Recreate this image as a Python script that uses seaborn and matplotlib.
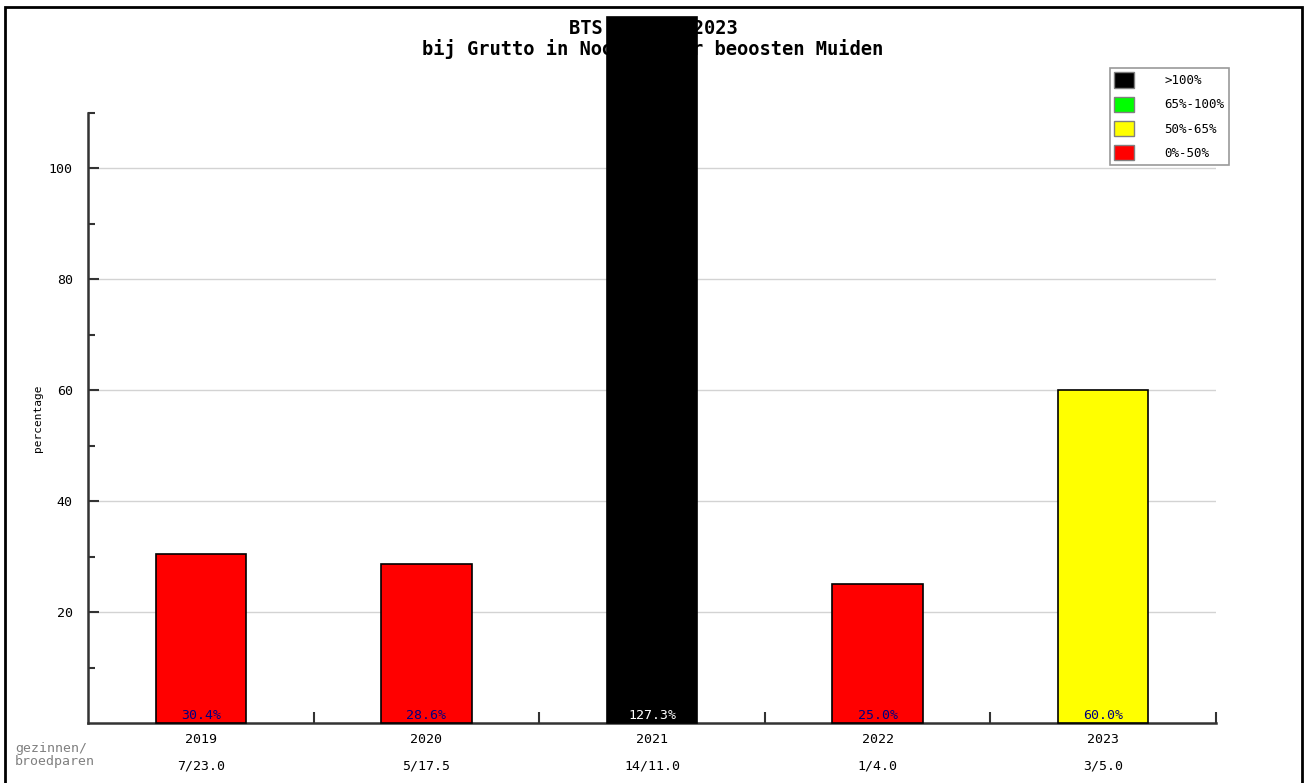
import matplotlib
matplotlib.use("Agg")
import matplotlib.pyplot as plt
import seaborn as sns
from matplotlib.patches import Patch, Rectangle

# data
years = ["2019", "2020", "2021", "2022", "2023"]
percentages = [30.4, 28.6, 127.3, 25.0, 60.0]
counts = ["7/23.0", "5/17.5", "14/11.0", "1/4.0", "3/5.0"]

legend_labels = [">100%", "65%-100%", "50%-65%", "0%-50%"]
legend_colors = ["#000000", "#00ff00", "#ffff00", "#ff0000"]


def bar_color(v):
    if v > 100:
        return "#000000"
    if v >= 65:
        return "#00ff00"
    if v >= 50:
        return "#ffff00"
    return "#ff0000"


colors = [bar_color(v) for v in percentages]
label_colors = ["white" if c == "#000000" else "#000080" for c in colors]

sns.set_style("white")
plt.rcParams["font.family"] = ["DejaVu Sans Mono"]
plt.rcParams["text.color"] = "black"
plt.rcParams["axes.labelcolor"] = "black"
plt.rcParams["xtick.color"] = "#333333"
plt.rcParams["ytick.color"] = "#333333"
plt.rcParams["xtick.labelcolor"] = "black"
plt.rcParams["ytick.labelcolor"] = "black"

fig = plt.figure(figsize=(13.06, 7.83), dpi=100)
ax = fig.add_axes([88 / 1306, 60 / 783, 1128 / 1306, 610 / 783])

sns.barplot(x=years, y=percentages, hue=years, palette=colors, width=0.4,
            edgecolor="black", linewidth=1.2, saturation=1, legend=False,
            ax=ax, zorder=3)
for p in ax.patches:
    p.set_clip_on(False)

ax.set_xlim(-0.5, 4.5)
ax.set_ylim(0, 110)

# y axis
ax.set_yticks([20, 40, 60, 80, 100])
ax.set_yticks([10, 30, 50, 70, 90, 110], minor=True)
ax.tick_params(axis="y", which="major", left=True, direction="in", length=8,
               width=1.5, pad=11, labelsize=9.5)
ax.tick_params(axis="y", which="minor", left=True, direction="in", length=5,
               width=1.5)
ax.yaxis.grid(True, color="#d3d3d3", linewidth=1)
ax.set_axisbelow(True)

# x axis
ax.set_xticks(range(len(years)))
ax.set_xticklabels(years)
ax.set_xticks([0.5, 1.5, 2.5, 3.5, 4.5], minor=True)
ax.tick_params(axis="x", which="major", bottom=True, length=0, pad=7,
               labelsize=9.5)
ax.tick_params(axis="x", which="minor", bottom=True, direction="in", length=8,
               width=1.5)
ax.set_xlabel("")

for s in ["top", "right"]:
    ax.spines[s].set_visible(False)
for s in ["left", "bottom"]:
    ax.spines[s].set_color("#333333")
    ax.spines[s].set_linewidth(1.8)

ax.set_ylabel("percentage", fontsize=8, labelpad=4)

# labels in bars and counts below
for i, (v, c) in enumerate(zip(percentages, label_colors)):
    ax.annotate(f"{v:.1f}%", xy=(i, 0), xytext=(0, 1), textcoords="offset points",
                ha="center", va="bottom", fontsize=9.5, color=c, zorder=5)
    ax.annotate(counts[i], xy=(i, 0), xycoords=("data", "axes fraction"),
                xytext=(0, -26), textcoords="offset points",
                ha="center", va="top", fontsize=9.5, color="black")

fig.text(15 / 1306, 1 - 755 / 783, "gezinnen/\nbroedparen", fontsize=9.5,
         color="#808080", ha="left", va="center", linespacing=1.05)

# title sits below the overflowing bar
fig.text(0.5, 1 - 28 / 783, "BTS 2014 - 2023", ha="center", va="center",
         fontsize=13.5, fontweight="bold", zorder=-1)
fig.text(0.5, 1 - 49 / 783, "bij Grutto in Noordpolder beoosten Muiden",
         ha="center", va="center", fontsize=13.5, fontweight="bold", zorder=-1)

# legend
handles = [Patch(facecolor=c, edgecolor="#808080", linewidth=1) for c in legend_colors]
leg = fig.legend(handles, legend_labels, loc="upper left",
                 bbox_to_anchor=(1110 / 1306, 1 - 68 / 783), fontsize=9,
                 frameon=True, fancybox=False, handlelength=1.6, handleheight=1.5,
                 labelspacing=0.72, borderpad=0.35, handletextpad=2.4,
                 borderaxespad=0)
leg.get_frame().set_edgecolor("#808080")
leg.get_frame().set_linewidth(1.2)

# outer border
fig.patches.append(Rectangle((5 / 1306, -0.01), 1297 / 1306, 1 - 7 / 783 + 0.01,
                             transform=fig.transFigure, fill=False,
                             edgecolor="black", linewidth=2))

fig.savefig("out.png", dpi=100)
